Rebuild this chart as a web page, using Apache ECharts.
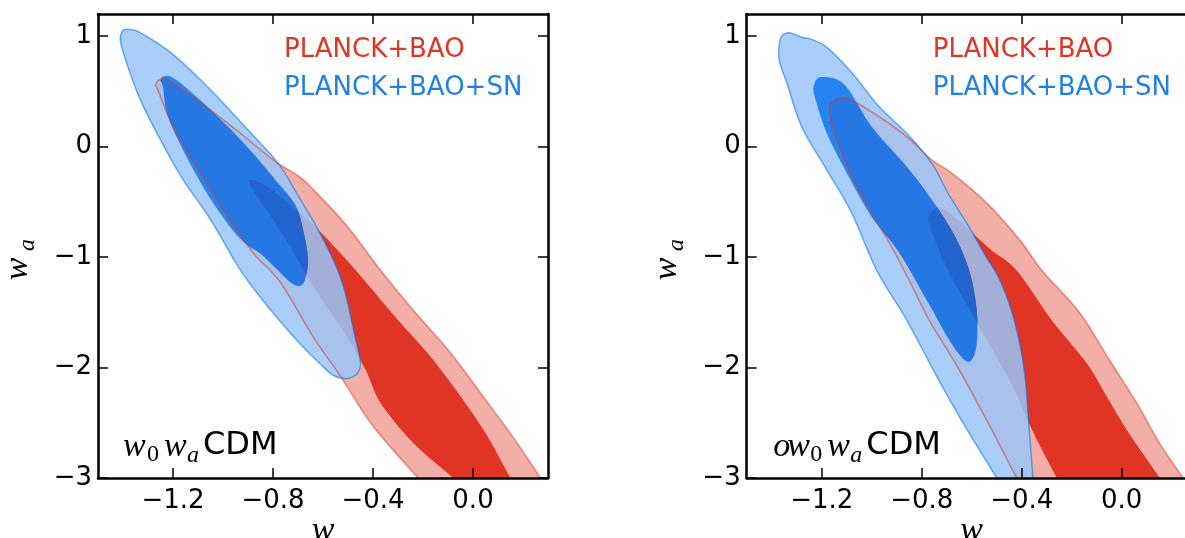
<!DOCTYPE html>
<html><head><meta charset="utf-8">
<script src="https://cdn.jsdelivr.net/npm/echarts@6/dist/echarts.min.js"></script>
<style>html,body{margin:0;padding:0;background:#fff}#c{width:1185px;height:538px}</style>
</head><body><div id="c"></div><script>
// ---------- data ----------
const xTicks = [-1.2, -0.8, -0.4, 0.0];
const yTicks = [-3, -2, -1, 0, 1];
const legendNames = ['PLANCK+BAO', 'PLANCK+BAO+SN'];
const xName = 'w';
const yName = ['w', 'a'];
const panelTags = [['', 'w', '0', 'w', 'a', 'CDM'], ['o', 'w', '0', 'w', 'a', 'CDM']];

// left panel (w0waCDM): contours [w, wa]
const L_BAO_95 = [[-1.27,0.56],[-1.25,0.61],[-1.22,0.60],[-1.09,0.40],[-0.93,0.12],[-0.80,-0.12],[-0.69,-0.28],[-0.63,-0.41],[-0.50,-0.73],[-0.37,-1.12],[-0.24,-1.48],[-0.10,-1.84],[0.03,-2.23],[0.16,-2.63],[0.27,-3.0],[0.33,-3.2],[-0.14,-3.2],[-0.22,-3.0],[-0.40,-2.53],[-0.53,-2.08],[-0.64,-1.72],[-0.77,-1.23],[-0.88,-0.96],[-0.98,-0.64],[-1.09,-0.24],[-1.20,0.18],[-1.26,0.51]];
const L_BAO_68 = [[-0.89,-0.30],[-0.83,-0.35],[-0.73,-0.53],[-0.62,-0.75],[-0.48,-1.09],[-0.30,-1.57],[-0.17,-1.90],[-0.04,-2.29],[0.06,-2.63],[0.15,-3.0],[0.20,-3.2],[0.01,-3.2],[-0.08,-3.0],[-0.24,-2.68],[-0.37,-2.32],[-0.43,-2.02],[-0.51,-1.70],[-0.63,-1.30],[-0.75,-0.84],[-0.84,-0.53],[-0.89,-0.36]];
const L_SN_95 = [[-1.40,1.05],[-1.37,1.06],[-1.33,1.03],[-1.22,0.87],[-1.12,0.67],[-1.01,0.42],[-0.90,0.15],[-0.78,-0.15],[-0.69,-0.48],[-0.62,-0.75],[-0.56,-1.02],[-0.52,-1.25],[-0.50,-1.43],[-0.48,-1.64],[-0.46,-1.84],[-0.45,-1.98],[-0.47,-2.07],[-0.51,-2.10],[-0.56,-2.07],[-0.61,-1.97],[-0.69,-1.79],[-0.82,-1.45],[-0.93,-1.12],[-1.05,-0.66],[-1.16,-0.30],[-1.25,0.06],[-1.33,0.42],[-1.38,0.72],[-1.41,0.95]];
const L_SN_68 = [[-1.25,0.60],[-1.23,0.64],[-1.19,0.61],[-1.09,0.42],[-0.98,0.18],[-0.88,-0.06],[-0.78,-0.33],[-0.71,-0.53],[-0.68,-0.75],[-0.66,-1.01],[-0.67,-1.19],[-0.69,-1.26],[-0.73,-1.23],[-0.79,-1.10],[-0.85,-0.97],[-0.93,-0.84],[-1.04,-0.51],[-1.14,-0.12],[-1.22,0.27],[-1.24,0.54]];

// right panel (ow0waCDM)
const R_BAO_95 = [[-1.17,0.33],[-1.15,0.42],[-1.12,0.44],[-1.08,0.42],[-0.97,0.27],[-0.86,0.09],[-0.76,-0.12],[-0.68,-0.24],[-0.54,-0.51],[-0.41,-0.84],[-0.32,-1.12],[-0.17,-1.50],[-0.05,-1.93],[0.06,-2.32],[0.15,-2.68],[0.245,-3.0],[0.305,-3.2],[-0.374,-3.2],[-0.42,-3.0],[-0.53,-2.52],[-0.65,-2.02],[-0.77,-1.57],[-0.85,-1.21],[-0.92,-0.91],[-1.00,-0.60],[-1.08,-0.27],[-1.14,0.06]];
const R_BAO_68 = [[-0.77,-0.62],[-0.74,-0.55],[-0.71,-0.57],[-0.63,-0.71],[-0.53,-0.92],[-0.42,-1.12],[-0.28,-1.57],[-0.14,-1.96],[-0.06,-2.26],[0.02,-2.56],[0.153,-3.0],[0.21,-3.2],[-0.215,-3.2],[-0.26,-3.0],[-0.36,-2.56],[-0.43,-2.20],[-0.53,-1.79],[-0.63,-1.39],[-0.71,-1.05],[-0.77,-0.70]];
const R_SN_95 = [[-1.37,0.92],[-1.36,1.00],[-1.33,1.03],[-1.28,0.99],[-1.24,0.97],[-1.18,0.90],[-1.08,0.67],[-0.97,0.36],[-0.86,0.12],[-0.76,-0.15],[-0.69,-0.44],[-0.615,-0.71],[-0.547,-0.98],[-0.487,-1.21],[-0.43,-1.57],[-0.39,-2.02],[-0.37,-2.56],[-0.355,-3.0],[-0.35,-3.2],[-0.45,-3.2],[-0.50,-3.0],[-0.63,-2.52],[-0.74,-2.08],[-0.86,-1.57],[-0.98,-1.12],[-1.08,-0.60],[-1.18,-0.21],[-1.28,0.18],[-1.34,0.58],[-1.37,0.78]];
const R_SN_68 = [[-1.23,0.56],[-1.22,0.61],[-1.20,0.63],[-1.14,0.61],[-1.09,0.51],[-1.00,0.18],[-0.86,-0.18],[-0.76,-0.48],[-0.67,-0.80],[-0.61,-1.12],[-0.58,-1.48],[-0.58,-1.79],[-0.60,-1.93],[-0.63,-1.93],[-0.69,-1.75],[-0.77,-1.43],[-0.89,-0.96],[-1.00,-0.64],[-1.10,-0.24],[-1.18,0.12],[-1.23,0.47]];

// ---------- styling ----------
const RED = '#E03424', RED_LIGHT = '#F3AEA7', RED_EDGE = 'rgba(224,52,36,0.5)';
const BLUE = '#006FED', BLUE_LIGHT = '#99C5F8', BLUE_EDGE = 'rgba(0,111,237,0.55)';
const LABEL_FONT = 'DejaVu Sans';
const MATH_FONT = '"Liberation Serif", "DejaVu Serif", serif';

function area(p){let s=0;for(let i=0;i<p.length;i++){const a=p[i],b=p[(i+1)%p.length];s+=a[0]*b[1]-b[0]*a[1];}return s;}
function smoothRing(p){
  const n=p.length;let d='M'+p[0][0].toFixed(2)+' '+p[0][1].toFixed(2);
  for(let i=0;i<n;i++){
    const p0=p[(i-1+n)%n],p1=p[i],p2=p[(i+1)%n],p3=p[(i+2)%n];
    const c1=[p1[0]+(p2[0]-p0[0])/6,p1[1]+(p2[1]-p0[1])/6];
    const c2=[p2[0]-(p3[0]-p1[0])/6,p2[1]-(p3[1]-p1[1])/6];
    d+=' C'+[c1[0],c1[1],c2[0],c2[1],p2[0],p2[1]].map(v=>v.toFixed(2)).join(' ');
  }
  return d+' Z';
}
function fillSeries(name, g, outer, inner, light, dark, opacity){
  return {
    name, type:'custom', xAxisIndex:g*2, yAxisIndex:g*2, clip:true, silent:true,
    data:[[-1,0]],
    renderItem(params, api){
      const po = outer.map(d=>api.coord(d));
      let pi = inner.map(d=>api.coord(d));
      if (Math.sign(area(po)) === Math.sign(area(pi))) pi = pi.slice().reverse();
      return {type:'group', children:[
        {type:'path', shape:{pathData: smoothRing(po)+' '+smoothRing(pi)}, style:{fill:light, opacity}},
        {type:'path', shape:{pathData: smoothRing(pi)}, style:{fill:dark, opacity}}
      ]};
    }
  };
}
function edgeSeries(name, g, outer, edge, width){
  return {
    name, type:'custom', xAxisIndex:g*2, yAxisIndex:g*2, clip:true, silent:true,
    data:[[-1,0]],
    renderItem(params, api){
      const po = outer.map(d=>api.coord(d));
      return {type:'path', shape:{pathData: smoothRing(po)}, style:{fill:'none', stroke:edge, lineWidth:width}};
    }
  };
}
const fmtX = v => (v < 0 ? '\u2212' : '') + Math.abs(v).toFixed(1);
const fmtY = v => (v < 0 ? '\u2212' : '') + Math.abs(v);

function xAx(g, pos, labels){
  return {type:'value', gridIndex:g, position:pos, min:-1.5, max:0.3, z:10,
    axisLine:{show:true, onZero:false, lineStyle:{color:'#000', width:2.5}},
    axisTick:{show:true, inside:true, length:10, customValues:xTicks, lineStyle:{color:'#000', width:1.5}},
    axisLabel:{show:labels, customValues:xTicks, formatter:fmtX, fontSize:26, fontFamily:LABEL_FONT, color:'#000', margin:10},
    splitLine:{show:false}};
}
function yAx(g, pos, labels){
  return {type:'value', gridIndex:g, position:pos, min:-3, max:1.2, z:10,
    axisLine:{show:true, onZero:false, lineStyle:{color:'#000', width:2.5}},
    axisTick:{show:true, inside:true, length:10, customValues:yTicks, lineStyle:{color:'#000', width:1.5}},
    axisLabel:{show:labels, customValues:yTicks, formatter:fmtY, fontSize:26, fontFamily:LABEL_FONT, color:'#000', margin:6},
    splitLine:{show:false}};
}

const panelX = [98, 746.7];
const graphics = [];
panelX.forEach((px, g) => {
  const dx = px - 98;
  graphics.push({type:'text', x:284+dx, y:50, z:100, style:{text:legendNames[0], fill:RED, font:'26px "DejaVu Sans"', verticalAlign:'middle'}});
  graphics.push({type:'text', x:284+dx, y:88, z:100, style:{text:legendNames[1], fill:'#1f80ea', font:'26px "DejaVu Sans"', verticalAlign:'middle'}});
  graphics.push({type:'text', x:px+225, y:531, z:100, style:{text:xName, fill:'#000', font:'italic 34px '+MATH_FONT, align:'center', verticalAlign:'middle'}});
  graphics.push({type:'text', x:18+dx, y:269, rotation:Math.PI/2, z:100, style:{text:yName[0], fill:'#000', font:'italic 34px '+MATH_FONT, align:'center', verticalAlign:'middle'}});
  graphics.push({type:'text', x:28+dx, y:245, rotation:Math.PI/2, z:100, style:{text:yName[1], fill:'#000', font:'italic 24px '+MATH_FONT, align:'center', verticalAlign:'middle'}});
  const t = panelTags[g];
  const off = g ? 663.3 : 0;
  if (t[0]) graphics.push({type:'text', x:773.3, y:447, z:100, style:{text:t[0], fill:'#000', font:'italic 34px '+MATH_FONT, verticalAlign:'middle'}});
  graphics.push({type:'text', x:123+off+(g?1:0), y:447, z:100, style:{text:t[1], fill:'#000', font:'italic 34px '+MATH_FONT, verticalAlign:'middle'}});
  graphics.push({type:'text', x:147+off, y:455, z:100, style:{text:t[2], fill:'#000', font:'24px '+MATH_FONT, verticalAlign:'middle'}});
  graphics.push({type:'text', x:164+off, y:447, z:100, style:{text:t[3], fill:'#000', font:'italic 34px '+MATH_FONT, verticalAlign:'middle'}});
  graphics.push({type:'text', x:187+off, y:456, z:100, style:{text:t[4], fill:'#000', font:'italic 24px '+MATH_FONT, verticalAlign:'middle'}});
  graphics.push({type:'text', x:203+off, y:446, z:100, style:{text:t[5], fill:'#000', font:'32px "DejaVu Sans"', verticalAlign:'middle'}});
});

const chart = echarts.init(document.getElementById('c'), null, {renderer:'canvas'});
chart.setOption({
  animation:false,
  backgroundColor:'#fff',
  grid:[
    {left:98, top:14, width:450, height:464, containLabel:false, outerBoundsMode:'none'},
    {left:746.7, top:14, width:450, height:464, containLabel:false, outerBoundsMode:'none'}
  ],
  xAxis:[xAx(0,'bottom',true), xAx(0,'top',false), xAx(1,'bottom',true), xAx(1,'top',false)],
  yAxis:[yAx(0,'left',true), yAx(0,'right',false), yAx(1,'left',true), yAx(1,'right',false)],
  series:[
    fillSeries(legendNames[0], 0, L_BAO_95, L_BAO_68, RED_LIGHT, RED, 1),
    fillSeries(legendNames[1], 0, L_SN_95, L_SN_68, BLUE_LIGHT, BLUE, 0.85),
    edgeSeries(legendNames[0], 0, L_BAO_95, RED_EDGE, 1.6),
    edgeSeries(legendNames[1], 0, L_SN_95, BLUE_EDGE, 1.5),
    fillSeries(legendNames[0], 1, R_BAO_95, R_BAO_68, RED_LIGHT, RED, 1),
    fillSeries(legendNames[1], 1, R_SN_95, R_SN_68, BLUE_LIGHT, BLUE, 0.85),
    edgeSeries(legendNames[0], 1, R_BAO_95, RED_EDGE, 1.6),
    edgeSeries(legendNames[1], 1, R_SN_95, BLUE_EDGE, 1.5)
  ],
  graphic:{elements:graphics}
});
</script></body></html>
